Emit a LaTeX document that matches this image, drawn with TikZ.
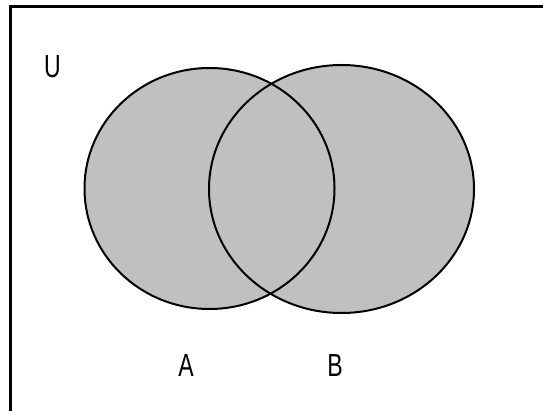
\documentclass[tikz,border=0pt]{standalone}
\usepackage{fontspec}
\setmainfont{Liberation Sans}
\usepackage{tikz}
\usepackage{xcolor}
\usetikzlibrary{positioning}
\definecolor{setfill}{HTML}{C0C0C0}
\definecolor{darktext}{HTML}{000000}

\begin{document}
\begin{tikzpicture}[x=1pt, y=-1pt,
            setA/.style={fill=setfill},
            setline/.style={draw=darktext, line width=2pt},
            lbl/.style={inner sep=0pt, text=darktext, font=\fontsize{32}{32}\selectfont, xscale=0.72}]
            \useasboundingbox (0,0) rectangle (543,411);
            % frame of the universe
            \coordinate (Ftl) at (10.5,7);
            \coordinate (Ftr) at (543,7);
            \coordinate (Fbl) at (10.5,411);
            \draw[darktext, line width=3pt] (Ftr) -- (Ftl) -- (Fbl);
            % the two sets
            \coordinate (CA) at (209.5,188.5);
            \coordinate (CB) at (341.5,189);
            \fill[setA] (CA) ellipse [x radius=125, y radius=120.5];
            \fill[setA] (CB) ellipse [x radius=132.5, y radius=124];
            \draw[setline] (CA) ellipse [x radius=125, y radius=120.5];
            \draw[setline] (CB) ellipse [x radius=132.5, y radius=124];
            % labels
            \node[lbl] (U) at (52.5,66.5) {U};
            \node[lbl] (A) at (186,365) {A};
            \node[lbl] (B) at (335,365) {B};
        \end{tikzpicture}
\end{document}
